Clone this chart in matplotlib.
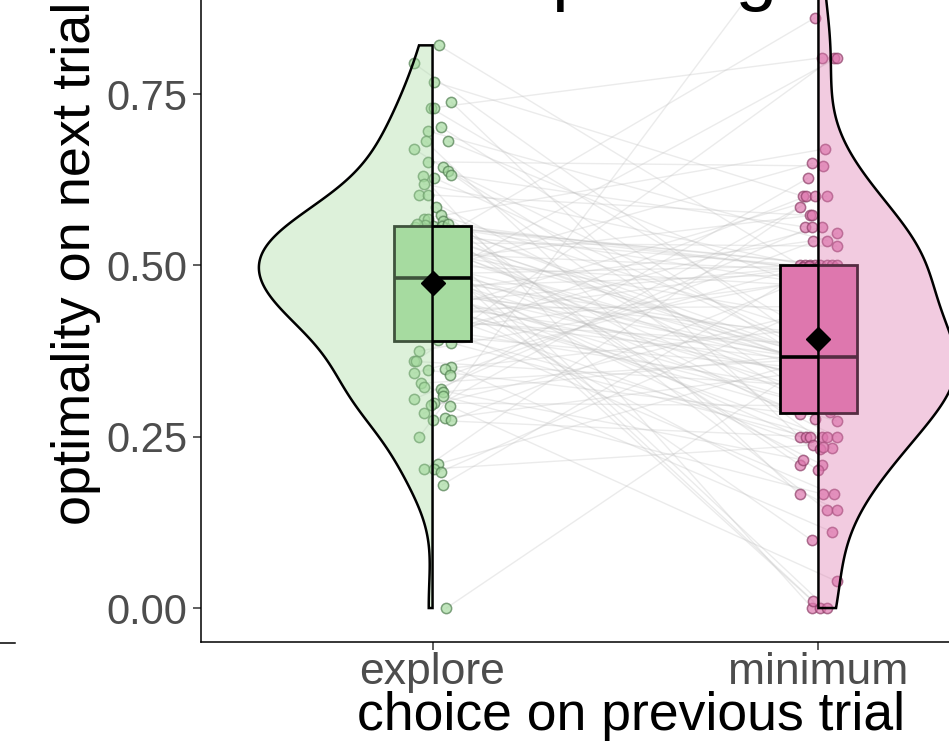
import numpy as np
import matplotlib.pyplot as plt
from matplotlib.colors import to_rgb
from matplotlib.patches import Polygon, Rectangle

plt.rcParams['font.family'] = ['Liberation Sans', 'DejaVu Sans']

categories = ['explore', 'minimum']

# optimality on the next trial, one entry per participant (same order in both lists)
explore = [0.821, 0.795, 0.768, 0.738, 0.730, 0.730, 0.702, 0.696, 0.681, 0.681,
           0.670, 0.651, 0.644, 0.638, 0.632, 0.630, 0.628, 0.619, 0.603, 0.603,
           0.585, 0.573, 0.568, 0.568, 0.565,
           0.391, 0.387, 0.375, 0.360, 0.360, 0.352, 0.349, 0.340, 0.347, 0.343,
           0.328, 0.322, 0.319, 0.315, 0.309, 0.305, 0.299, 0.296, 0.295, 0.284,
           0.277, 0.274, 0.274, 0.250, 0.210, 0.203, 0.203, 0.199, 0.180, 0.000,
           0.400, 0.403, 0.405, 0.408, 0.410, 0.413, 0.417, 0.420, 0.423, 0.427,
           0.430, 0.433, 0.437, 0.440, 0.443, 0.447, 0.450, 0.452, 0.455, 0.458,
           0.460, 0.463, 0.467, 0.470, 0.472, 0.475, 0.477, 0.480, 0.482, 0.485,
           0.488, 0.490, 0.493, 0.497, 0.500, 0.500, 0.500, 0.503, 0.507, 0.510,
           0.513, 0.517, 0.520, 0.523, 0.527, 0.530, 0.533, 0.537, 0.540, 0.543,
           0.545, 0.548, 0.550, 0.552, 0.555, 0.556, 0.557, 0.558, 0.559, 0.560,
           0.560]
minimum = [0.500, 0.366, 0.601, 0.250, 0.405, 0.803, 0.338, 0.536, 0.166, 0.460,
           0.310, 0.645, 0.361, 0.233, 0.556, 0.000, 0.380, 0.500, 0.286, 0.573,
           0.143, 0.395, 0.670, 0.354, 0.209,
           0.601, 0.250, 0.485, 0.325, 0.803, 0.111, 0.410, 0.547, 0.283, 0.500,
           0.365, 0.216, 0.627, 0.370, 0.166, 0.556, 0.295, 0.430, 0.039, 0.585,
           0.347, 0.250, 0.496, 1.000, 0.363, 0.601, 0.238, 0.450, 0.500, 0.375,
           0.350, 0.556, 0.250, 0.480, 0.315, 0.166, 0.385, 0.500, 0.356, 0.232,
           0.601, 0.300, 0.440, 0.364, 0.273, 0.498, 0.335, 0.143, 0.400, 0.536,
           0.290, 0.367, 0.250, 0.488, 0.341, 0.099, 0.803, 0.360, 0.390, 0.235,
           0.500, 0.320, 0.649, 0.364, 0.209, 0.470, 0.344, 0.000, 0.573, 0.362,
           0.276, 0.492, 0.330, 0.420, 0.010, 0.365, 0.528, 0.250, 0.305, 0.499,
           0.000, 0.861, 0.358, 0.201, 0.475, 0.352, 0.500, 0.368, 0.490, 0.494,
           0.500]

# horizontal jitter of each dot (category units)
explore_jitter = [0.016, -0.049, 0.003, 0.049, -0.005, 0.005, 0.021, -0.013, -0.018, 0.041,
                  -0.049, -0.013, 0.026, 0.039, 0.047, -0.026, 0.003, -0.023, -0.034, -0.013,
                  0.008, 0.021, -0.023, -0.013, 0.026,
                  0.013, 0.047, -0.034, -0.049, -0.044, 0.047, 0.031, 0.044, -0.013, -0.047,
                  -0.031, -0.021, 0.021, 0.026, 0.028, -0.047, 0.003, -0.005, 0.044, -0.023,
                  0.031, 0.000, 0.049, -0.034, 0.013, -0.023, 0.003, 0.021, 0.026, 0.036,
                  -0.04, 0.02, -0.01, 0.045, -0.03, 0.01, 0.035, -0.045, 0.0, 0.025,
                  -0.02, 0.04, -0.04, 0.02, -0.01, 0.045, -0.03, 0.01, 0.035, -0.045,
                  0.0, 0.025, -0.02, 0.04, -0.04, 0.02, -0.01, 0.045, -0.03, 0.01,
                  0.035, -0.045, 0.0, 0.025, -0.02, 0.04, -0.04, 0.02, -0.01, 0.045,
                  -0.03, 0.01, 0.035, -0.045, 0.0, 0.025, -0.02, 0.04, -0.04, 0.02,
                  -0.01, 0.045, -0.03, 0.01, 0.035, -0.045, 0.0, 0.025, -0.02, 0.04,
                  -0.04]
minimum_jitter = [-0.047, 0.02, -0.041, -0.049, -0.03, 0.010, 0.035, 0.023, -0.049, 0.0,
                  -0.02, 0.013, 0.04, 0.036, -0.034, -0.016, -0.04, -0.034, 0.031, -0.023,
                  0.021, 0.025, 0.018, -0.01, -0.049,
                  -0.031, -0.031, 0.045, -0.045, 0.039, 0.036, 0.01, 0.049, -0.049, -0.021,
                  0.03, -0.039, -0.028, -0.025, 0.013, -0.018, 0.015, -0.035, 0.047, -0.049,
                  0.005, -0.023, 0.042, -0.039, -0.012, -0.008, -0.013, 0.028, -0.008, 0.02,
                  -0.03, 0.008, 0.010, 0.02, 0.035, 0.039, -0.015, 0.005, 0.045, 0.005,
                  0.021, -0.04, 0.012, -0.022, 0.047, -0.04, 0.025, 0.047, -0.005, -0.013,
                  0.032, -0.028, 0.021, 0.015, -0.045, -0.018, 0.049, 0.0, 0.038, 0.013,
                  0.021, -0.035, -0.016, 0.044, 0.010, -0.01, 0.027, 0.005, -0.016, -0.042,
                  -0.008, 0.03, -0.02, 0.04, -0.013, 0.018, 0.047, 0.047, -0.033, -0.025,
                  0.021, -0.010, 0.033, 0.0, -0.044, 0.008, 0.036, -0.006, 0.043, -0.015,
                  0.049]

yticks = [0.00, 0.25, 0.50, 0.75, 1.00]
box_colours = ['#a6dba0', '#de77ae']
point_edges = ['#4f7d4f', '#8c3d66']
sides = [-1, 1]   # explore violin opens to the left, minimum to the right
bw_adjust = 1.25


def nrd0(x):
    q1, q3 = np.percentile(x, [25, 75])
    return 0.9 * min(np.std(x, ddof=1), (q3 - q1) / 1.34) * len(x) ** -0.2


def kde(x, grid, bw):
    z = (grid[:, None] - x[None, :]) / bw
    return np.exp(-0.5 * z ** 2).sum(axis=1) / (len(x) * bw * np.sqrt(2 * np.pi))


groups = [np.array(explore), np.array(minimum)]
jitters = [np.array(explore_jitter), np.array(minimum_jitter)]

fig = plt.figure(figsize=(9.49, 7.47), dpi=100)
W, H = 949, 747
ax = fig.add_axes([201 / W, 1 - 642.3 / H, 849 / W, 753.9 / H])
ax.set_xlim(0.4, 2.6)
ax.set_ylim(-0.05, 1.05)

# paired lines between the two conditions
for e, m, je, jm in zip(explore, minimum, explore_jitter, minimum_jitter):
    ax.plot([1 + je, 2 + jm], [e, m], color='#bebebe', alpha=0.3, lw=1.0, zorder=1)

# jittered dots
for k, vals in enumerate(groups):
    ax.scatter(k + 1 + jitters[k], vals, s=55, facecolor=box_colours[k], alpha=0.7,
               edgecolor=point_edges[k], linewidth=1.1, zorder=2)

# boxes (no whiskers)
for k, vals in enumerate(groups):
    q1, med, q3 = np.percentile(vals, [25, 50, 75])
    ax.add_patch(Rectangle((k + 1 - 0.1, q1), 0.2, q3 - q1, facecolor=box_colours[k],
                           edgecolor='black', lw=2.0, zorder=3))
    ax.plot([k + 1 - 0.1, k + 1 + 0.1], [med, med], color='black', lw=2.6,
            solid_capstyle='butt', zorder=3)

# half violins, area-scaled, drawn over the boxes with a translucent fill
grids, dens = [], []
for vals in groups:
    g = np.linspace(vals.min(), vals.max(), 512)
    grids.append(g)
    dens.append(kde(vals, g, nrd0(vals) * bw_adjust))
dmax = max(d.max() for d in dens)
for k in range(2):
    w = dens[k] / dmax * 0.45
    xs = np.concatenate([k + 1 + sides[k] * w, [k + 1, k + 1]])
    ys = np.concatenate([grids[k], [grids[k][-1], grids[k][0]]])
    ax.add_patch(Polygon(np.column_stack([xs, ys]), closed=True,
                         facecolor=(*to_rgb(box_colours[k]), 0.38),
                         edgecolor='black', lw=1.8, joinstyle='miter', zorder=4))

# condition means
for k, vals in enumerate(groups):
    ax.plot(k + 1, vals.mean(), marker='D', ms=12, color='black', zorder=5)

for side in ['top', 'right']:
    ax.spines[side].set_visible(False)
for side in ['left', 'bottom']:
    ax.spines[side].set_linewidth(1.1)
ax.set_xticks([1, 2])
ax.set_xticklabels(categories)
ax.set_yticks(yticks)
ax.set_yticklabels(['%.2f' % v for v in yticks])
ax.tick_params(axis='both', length=5.8, width=1.1, color='#333333', labelcolor='#4d4d4d')
ax.tick_params(axis='y', labelsize=30, pad=4)
ax.tick_params(axis='x', labelsize=32, pad=1)
ax.set_xlabel('choice on previous trial', fontsize=38.5)
ax.xaxis.set_label_coords(0.507, -0.064)
ax.set_ylabel('optimality on next trial', fontsize=39)
ax.yaxis.set_label_coords(-0.118, 0.503)

# panel title, only its descenders reach into view
fig.text(626 / W, 1 + 3 / H, 'exploring', fontsize=54, ha='center', va='baseline')

# edge of the neighbouring panel on the left
ax_left = fig.add_axes([-0.3, 1 - 643 / H, 0.3 + 15 / W, 0.5])
for side in ['top', 'right', 'left']:
    ax_left.spines[side].set_visible(False)
ax_left.spines['bottom'].set_linewidth(1.1)
ax_left.set_xticks([])
ax_left.set_yticks([])
ax_left.patch.set_alpha(0)

fig.savefig('out.png', dpi=100)
